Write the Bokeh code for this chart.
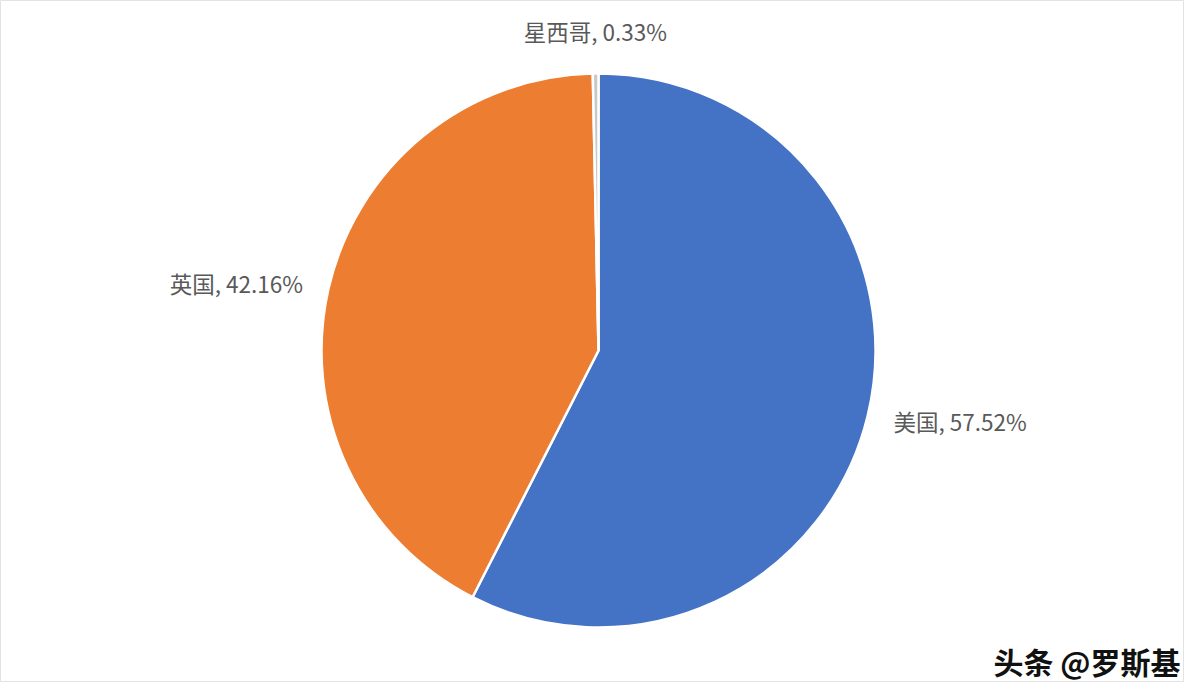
import math
from bokeh.plotting import figure
from bokeh.models import Range1d, ColumnDataSource, Label
from bokeh.core.properties import value
from bokeh.embed import file_html
from bokeh.resources import INLINE

countries = ["美国", "英国", "星西哥"]
shares = [57.52, 42.16, 0.33]
colors = ["#4472C4", "#ED7D31", "#C8C8C8"]

W, H = 1184, 682
cx, cy, R = 598, 332, 277

total = sum(shares)
starts, ends, lx, ly, aligns, bases, texts = [], [], [], [], [], [], []
c = 0.0
for name, s in zip(countries, shares):
    a0 = math.pi / 2 - 2 * math.pi * c / total
    c += s
    a1 = math.pi / 2 - 2 * math.pi * c / total
    starts.append(a0)
    ends.append(a1)
    mid = (a0 + a1) / 2
    cs, sn = math.cos(mid), math.sin(mid)
    rr = R * 1.095
    lx.append(cx + rr * cs)
    if sn > 0.9:
        ly.append(cy + R * 1.095 * sn)
        bases.append("bottom")
    else:
        ly.append(cy + rr * sn)
        bases.append("middle")
    aligns.append("left" if cs > 0.1 else ("right" if cs < -0.1 else "center"))
    texts.append(f"{name}, {s:.2f}%")

src = ColumnDataSource(dict(start=starts, end=ends, color=colors))
lab = ColumnDataSource(dict(x=lx, y=ly, text=texts, align=aligns, base=bases))

p = figure(width=W, height=H, output_backend="svg", toolbar_location=None,
           x_range=Range1d(0, W), y_range=Range1d(0, H), min_border=0)
p.axis.visible = False
p.grid.visible = False
p.outline_line_color = "#e3e3e3"
p.background_fill_color = "white"
p.border_fill_color = "white"

p.wedge(x=cx, y=cy, radius=R, start_angle="start", end_angle="end",
        direction="clock", fill_color="color", line_color="white",
        line_width=2.5, source=src)

p.text(x="x", y="y", text="text", text_align="align", text_baseline="base",
       text_font=value("Noto Sans CJK SC"), text_font_size="22.5px",
       text_color="#595959", source=lab)

p.add_layout(Label(x=W - 4, y=0, text="头条 @罗斯基", text_align="right",
                   text_baseline="bottom", text_font="Noto Sans CJK SC",
                   text_font_size="30px", text_font_style="bold",
                   text_color="#111111"))

open("out.html", "w").write(file_html(p, INLINE))
